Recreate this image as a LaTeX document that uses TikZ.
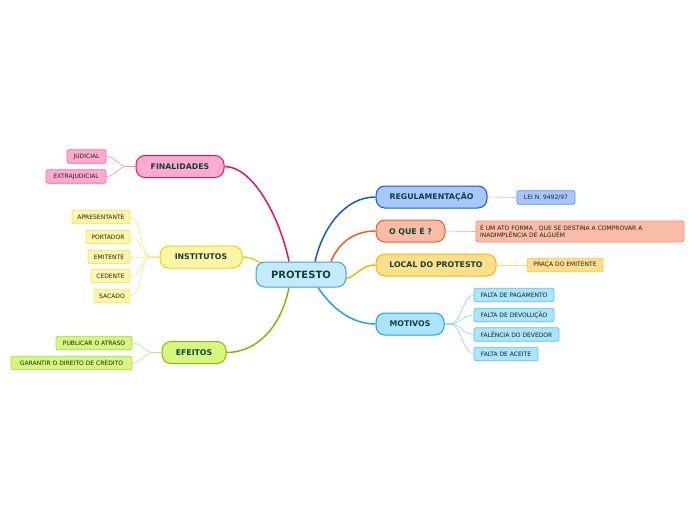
\documentclass[tikz,border=0pt]{standalone}
\usepackage{fontspec}
\setmainfont{DejaVu Sans}
\usetikzlibrary{backgrounds}
\definecolor{txtmain}{HTML}{10403A}
\definecolor{txtsub}{HTML}{1E1E1E}
\definecolor{cFin}{HTML}{E8106F}\definecolor{fFin}{HTML}{FFAAD0}\definecolor{sFin}{HTML}{E86AA6}\definecolor{lFin}{HTML}{F58BB8}
\definecolor{cIns}{HTML}{EDD400}\definecolor{fIns}{HTML}{FFF6A8}\definecolor{sIns}{HTML}{F0E070}\definecolor{lIns}{HTML}{F5E88A}
\definecolor{cEfe}{HTML}{8AB800}\definecolor{fEfe}{HTML}{D6F77E}\definecolor{sEfe}{HTML}{A8D84A}\definecolor{lEfe}{HTML}{C2E28A}
\definecolor{cReg}{HTML}{1559D6}\definecolor{fReg}{HTML}{A6C8FF}\definecolor{sReg}{HTML}{5B8FE8}\definecolor{lReg}{HTML}{A8C8F5}
\definecolor{cOq}{HTML}{F05A24}\definecolor{fOq}{HTML}{F9BCA7}\definecolor{sOq}{HTML}{F08F70}\definecolor{lOq}{HTML}{F5A890}
\definecolor{cLoc}{HTML}{F5B800}\definecolor{fLoc}{HTML}{FFDF8C}\definecolor{sLoc}{HTML}{F5C850}\definecolor{lLoc}{HTML}{F8DA90}
\definecolor{cMot}{HTML}{1AA6E0}\definecolor{fMot}{HTML}{ABE5F9}\definecolor{sMot}{HTML}{5CC3EA}\definecolor{lMot}{HTML}{8AD4F2}
\definecolor{fRoot}{HTML}{C5EBFB}\definecolor{sRoot}{HTML}{3AA4D9}
\tikzset{
  rootbox/.style={draw=sRoot,fill=fRoot,line width=1pt,rounded corners=9pt,minimum width=90pt,minimum height=25pt,inner sep=0pt,font=\fontsize{10}{12}\selectfont\bfseries,text=txtmain},
  mainbox/.style={line width=1pt,rounded corners=9pt,minimum height=22pt,inner sep=0pt,font=\fontsize{7.8}{9}\selectfont\bfseries,text=txtmain},
  subbox/.style={line width=0.7pt,rounded corners=2pt,minimum height=13.5pt,inner sep=0pt,font=\fontsize{6}{7.2}\selectfont,text=txtsub},
  mainline/.style={line width=1.5pt},
  subline/.style={line width=0.6pt},
}
\begin{document}
\begin{tikzpicture}[x=1pt,y=-1pt]
\useasboundingbox (0,0) rectangle (696,520);
\node[rootbox] (root) at (301,274.5) {PROTESTO};
% left branches
\node[mainbox,draw=cFin,fill=fFin,minimum width=88pt] (fin) at (180,166.5) {FINALIDADES};
\node[subbox,draw=sFin,fill=fFin,minimum width=39pt] (jud) at (86.5,156.5) {JUDICIAL};
\node[subbox,draw=sFin,fill=fFin,minimum width=60pt] (ext) at (76,176.5) {EXTRAJUDICIAL};
\node[mainbox,draw=cIns,fill=fIns,minimum width=82pt] (ins) at (201,257) {INSTITUTOS};
\node[subbox,draw=sIns,fill=fIns,minimum width=58pt] (apr) at (101,217) {APRESENTANTE};
\node[subbox,draw=sIns,fill=fIns,minimum width=44pt] (por) at (108,237) {PORTADOR};
\node[subbox,draw=sIns,fill=fIns,minimum width=42pt] (emi) at (109,257) {EMITENTE};
\node[subbox,draw=sIns,fill=fIns,minimum width=39pt] (ced) at (110.5,276) {CEDENTE};
\node[subbox,draw=sIns,fill=fIns,minimum width=36pt] (sac) at (112,296) {SACADO};
\node[mainbox,draw=cEfe,fill=fEfe,minimum width=64pt] (efe) at (194,352.5) {EFEITOS};
\node[subbox,draw=sEfe,fill=fEfe,minimum width=76pt] (pub) at (94,343) {PUBLICAR O ATRASO};
\node[subbox,draw=sEfe,fill=fEfe,minimum width=121pt] (gar) at (71.5,363) {GARANTIR O DIREITO DE CRÉDITO};
% right branches
\node[mainbox,draw=cReg,fill=fReg,minimum width=111pt] (reg) at (431.5,197) {REGULAMENTAÇÃO};
\node[subbox,draw=sReg,fill=fReg,minimum width=58pt] (lei) at (546,197.5) {LEI N. 9492/97};
\node[mainbox,draw=cOq,fill=fOq,minimum width=69pt] (oq) at (410.5,231) {O QUE É ?};
\node[subbox,draw=sOq,fill=fOq,minimum width=208pt,minimum height=21pt,align=left,text width=200pt] (def) at (580,231.5) {É UM ATO FORMA , QUE SE DESTINA A COMPROVAR A\\INADIMPLÊNCIA DE ALGUÉM};
\node[mainbox,draw=cLoc,fill=fLoc,minimum width=120pt] (loc) at (436,265) {LOCAL DO PROTESTO};
\node[subbox,draw=sLoc,fill=fLoc,minimum width=76pt] (pra) at (565,265) {PRAÇA DO EMITENTE};
\node[mainbox,draw=cMot,fill=fMot,minimum width=68pt] (mot) at (410,324) {MOTIVOS};
\node[subbox,draw=sMot,fill=fMot,minimum width=80pt] (fpag) at (514,295) {FALTA DE PAGAMENTO};
\node[subbox,draw=sMot,fill=fMot,minimum width=80pt] (fdev) at (514,315) {FALTA DE DEVOLUÇÃO};
\node[subbox,draw=sMot,fill=fMot,minimum width=85pt] (fal) at (516.5,334.5) {FALÊNCIA DO DEVEDOR};
\node[subbox,draw=sMot,fill=fMot,minimum width=64pt] (fac) at (506,354) {FALTA DE ACEITE};
\begin{pgfonlayer}{background}
% main connectors
\draw[mainline,cFin] (fin.east) .. controls +(30,0) and +(-8,-40) .. ([xshift=-12pt]root.north);
\draw[mainline,cIns] (ins.east) .. controls +(10,0) and +(-5,-3) .. ([xshift=-38pt,yshift=-3pt]root.north);
\draw[mainline,cEfe] (efe.east) .. controls +(30,0) and +(-8,40) .. ([xshift=-12pt]root.south);
\draw[mainline,cReg] (reg.west) .. controls +(-30,0) and +(8,-35) .. ([xshift=14pt]root.north);
\draw[mainline,cOq] (oq.west) .. controls +(-25,0) and +(6,-15) .. ([xshift=30pt]root.north);
\draw[mainline,cLoc] (loc.west) .. controls +(-15,0) and +(10,-2) .. ([yshift=-4pt]root.east);
\draw[mainline,cMot] (mot.west) .. controls +(-30,0) and +(8,12) .. ([xshift=17pt]root.south);
% sub connectors
\foreach \c in {jud,ext}
  \draw[subline,lFin] (fin.west) -- ++(-8,0) .. controls +(-10,0) and +(10,0) .. (\c.east);
\foreach \c in {apr,por,emi,ced,sac}
  \draw[subline,lIns] (ins.west) -- ++(-8,0) .. controls +(-12,0) and +(12,0) .. (\c.east);
\foreach \c in {pub,gar}
  \draw[subline,lEfe] (efe.west) -- ++(-8,0) .. controls +(-10,0) and +(10,0) .. (\c.east);
\draw[subline,lReg] (reg.east) -- (lei.west);
\draw[subline,lOq] (oq.east) -- (def.west);
\draw[subline,lLoc] (loc.east) -- (pra.west);
\foreach \c in {fpag,fdev,fal,fac}
  \draw[subline,lMot] (mot.east) -- ++(6,0) .. controls +(10,0) and +(-10,0) .. (\c.west);
\end{pgfonlayer}
\end{tikzpicture}
\end{document}
